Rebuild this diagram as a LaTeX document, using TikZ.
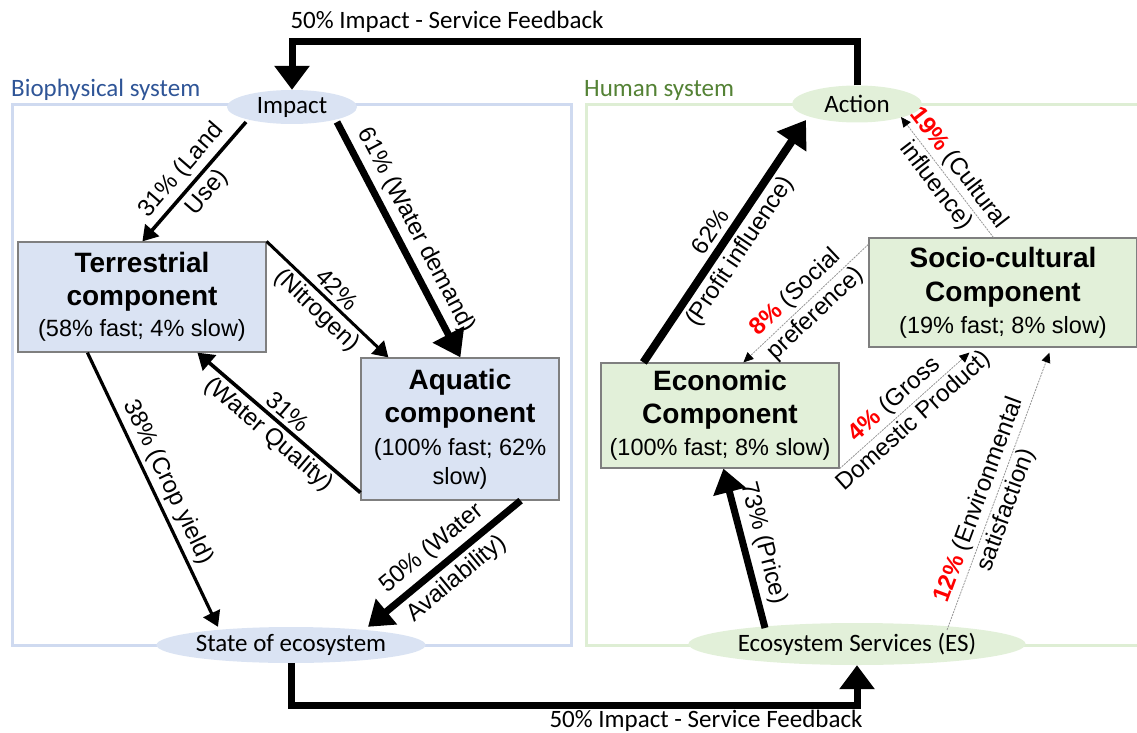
\documentclass[tikz,border=0pt]{standalone}
\usepackage{fontspec}
\setmainfont{Liberation Sans}
\newfontfamily\calibri{Carlito}
\usetikzlibrary{arrows.meta,shapes.geometric,calc}
\definecolor{bioline}{RGB}{207,218,240}
\definecolor{biofill}{RGB}{218,227,243}
\definecolor{biotext}{RGB}{47,85,151}
\definecolor{humline}{RGB}{222,238,212}
\definecolor{humfill}{RGB}{226,240,217}
\definecolor{humtext}{RGB}{84,130,53}
\definecolor{boxline}{RGB}{127,127,127}
\definecolor{pred}{RGB}{255,0,0}
\definecolor{thingray}{RGB}{150,150,150}
\begin{document}
\begin{tikzpicture}[x=1pt,y=-1pt,
  ell/.style={ellipse, inner sep=0pt, font=\calibri\fontsize{25}{30}\selectfont},
  sysname/.style={anchor=west, inner sep=0pt, font=\calibri\fontsize{25}{30}\selectfont},
  comp/.style={draw=boxline, line width=1.2pt, align=center, inner sep=0pt, font=\fontsize{28}{34}\selectfont},
  lblone/.style={font=\fontsize{24}{29}\selectfont, inner sep=0pt, sloped},
  medarrow/.style={-{Triangle[length=15pt,width=18pt]}, line width=3.6pt},
  thickarrow/.style={-{Triangle[length=26pt,width=34pt]}, line width=7.5pt},
  thinarrow/.style={-{Triangle[length=10pt,width=9pt,black]}, draw=thingray, line width=0.8pt, dash pattern=on 2pt off 1pt},
  fb/.style={-{Triangle[length=24pt,width=34pt]}, line width=7pt, line join=miter},
  fblbl/.style={inner sep=0pt, font=\calibri\fontsize{25}{30}\selectfont}
]
\useasboundingbox (0,0) rectangle (1137,733);
\newcommand{\ttlfont}{\bfseries}
\newcommand{\subfont}{\fontsize{23.5}{32}\selectfont\mdseries}
\newcommand{\pct}[1]{\textcolor{pred}{\textbf{#1}}}

% system frames
\draw[bioline, line width=3pt] (12,105) rectangle (571,645);
\draw[humline, line width=3pt] (586,105) rectangle (1160,645);
\node[sysname, text=biotext] (biolbl) at (11,90) {Biophysical system};
\node[sysname, text=humtext] (humlbl) at (584,90) {Human system};

% ellipses
\node[ell, fill=biofill, minimum width=130pt, minimum height=34pt] (imp) at (292,107) {Impact};
\node[ell, fill=humfill, minimum width=130pt, minimum height=37pt] (act) at (857,104) {Action};
\node[ell, fill=biofill, minimum width=246pt, minimum height=36pt] (soe) at (291,645) {State of ecosystem};
\node[ell, fill=humfill, minimum width=262pt, minimum height=42pt] (es) at (857,644) {Ecosystem Services (ES)};

% components
\node[comp, fill=biofill, minimum width=248pt, minimum height=110pt] (ter) at (142,297)
  {\ttlfont Terrestrial\\[-1pt]\ttlfont component\\[-3pt]\subfont (58\% fast; 4\% slow)};
\node[comp, fill=biofill, minimum width=198pt, minimum height=142pt] (aqu) at (460,429)
  {\ttlfont Aquatic\\[-1pt]\ttlfont component\\[-1pt]\subfont (100\% fast; 62\%\\[-5pt]\subfont slow)};
\node[comp, fill=humfill, minimum width=238pt, minimum height=105pt] (eco) at (720,415.5)
  {\ttlfont Economic\\[-1pt]\ttlfont Component\\[-2pt]\subfont (100\% fast; 8\% slow)};
\node[comp, fill=humfill, minimum width=268pt, minimum height=109pt] (soc) at (1003,292.5)
  {\ttlfont Socio-cultural\\\ttlfont Component\\[-2pt]\subfont (19\% fast; 8\% slow)};

% feedback loops
\coordinate (top) at (0,42);
\coordinate (bot) at (0,705);
\draw[fb] (act.north) -- (act.north |- top) -| (imp.north);
\draw[fb] (soe.south) -- (soe.south |- bot) -| (es.south);
\node[fblbl] (fbtop) at (447,22) {50\% Impact - Service Feedback};
\node[fblbl] (fbbot) at (706,721) {50\% Impact - Service Feedback};

% biophysical arrows
\draw[medarrow] ($(imp.center)+(-46,15)$) --
  node[lblone, above=4pt] (l1a) {31\% (Land}
  node[lblone, below=4pt] (l1b) {Use)} ($(ter.north west)+(125,0)$);
\draw[thickarrow, line width=7pt] ($(imp.center)+(45,15)$) --
  node[lblone, above=5pt] (l2) {61\% (Water demand)} ($(aqu.north west)+(100,0)$);
\draw[medarrow, line width=3pt] (ter.north east) --
  node[lblone, above=4pt] (l3a) {42\%}
  node[lblone, below=3pt] (l3b) {(Nitrogen)} ($(aqu.north west)+(28,0)$);
\draw[medarrow, -{Triangle[length=16pt,width=20pt]}] ($(aqu.south west)+(0,-8)$) --
  node[lblone, above=4pt] (l4a) {31\%}
  node[lblone, below=3pt] (l4b) {(Water Quality)} ($(ter.south west)+(180,0)$);
\draw[medarrow, line width=3.2pt] ($(ter.south west)+(70,0)$) --
  node[lblone, above=4pt] (l5) {38\% (Crop yield)} ($(soe.north)+(-73,0)$);
\draw[thickarrow, line width=7pt, -{Triangle[length=24pt,width=32pt]}] ($(aqu.south east)+(-39,0)$) --
  node[lblone, above=5pt] (l6a) {50\% (Water}
  node[lblone, below=5pt] (l6b) {Availability)} ($(soe.north)+(77,0)$);

% human arrows
\draw[thickarrow, line width=8pt] ($(eco.north west)+(43,0)$) --
  node[lblone, above=5pt] (l7a) {62\%}
  node[lblone, below=4pt] (l7b) {(Profit influence)} ($(act.center)+(-51,16)$);
\draw[thinarrow] ($(soc.north west)+(125,0)$) --
  node[lblone, above=3pt] (l8a) {\pct{19\%} (Cultural}
  node[lblone, below=3pt] (l8b) {influence)} ($(act.center)+(44,13)$);
\draw[thinarrow] ($(soc.north west)+(0,7)$) --
  node[lblone, above=3pt] (l9a) {\pct{8\%} (Social}
  node[lblone, below=3pt] (l9b) {preference)} ($(eco.north west)+(143,0)$);
\draw[thinarrow] (eco.south east) --
  node[lblone, pos=0.5, above=3pt] (l10a) {\pct{4\%} (Gross}
  node[lblone, pos=0.5, below=3pt] (l10b) {Domestic Product)} ($(soc.south west)+(101,5)$);
\draw[thinarrow] ($(es.center)+(90,-14)$) --
  node[lblone, pos=0.45, above=3pt] (l11a) {\pct{12\%} (Environmental}
  node[lblone, pos=0.45, below=3pt] (l11b) {satisfaction)} ($(soc.south west)+(181,5)$);
\draw[thickarrow, line width=7pt, -{Triangle[length=24pt,width=32pt]}] ($(es.center)+(-92,-16)$) --
  node[lblone, above=5pt] (l12) {73\% (Price)} ($(eco.south west)+(123,0)$);
\end{tikzpicture}
\end{document}
